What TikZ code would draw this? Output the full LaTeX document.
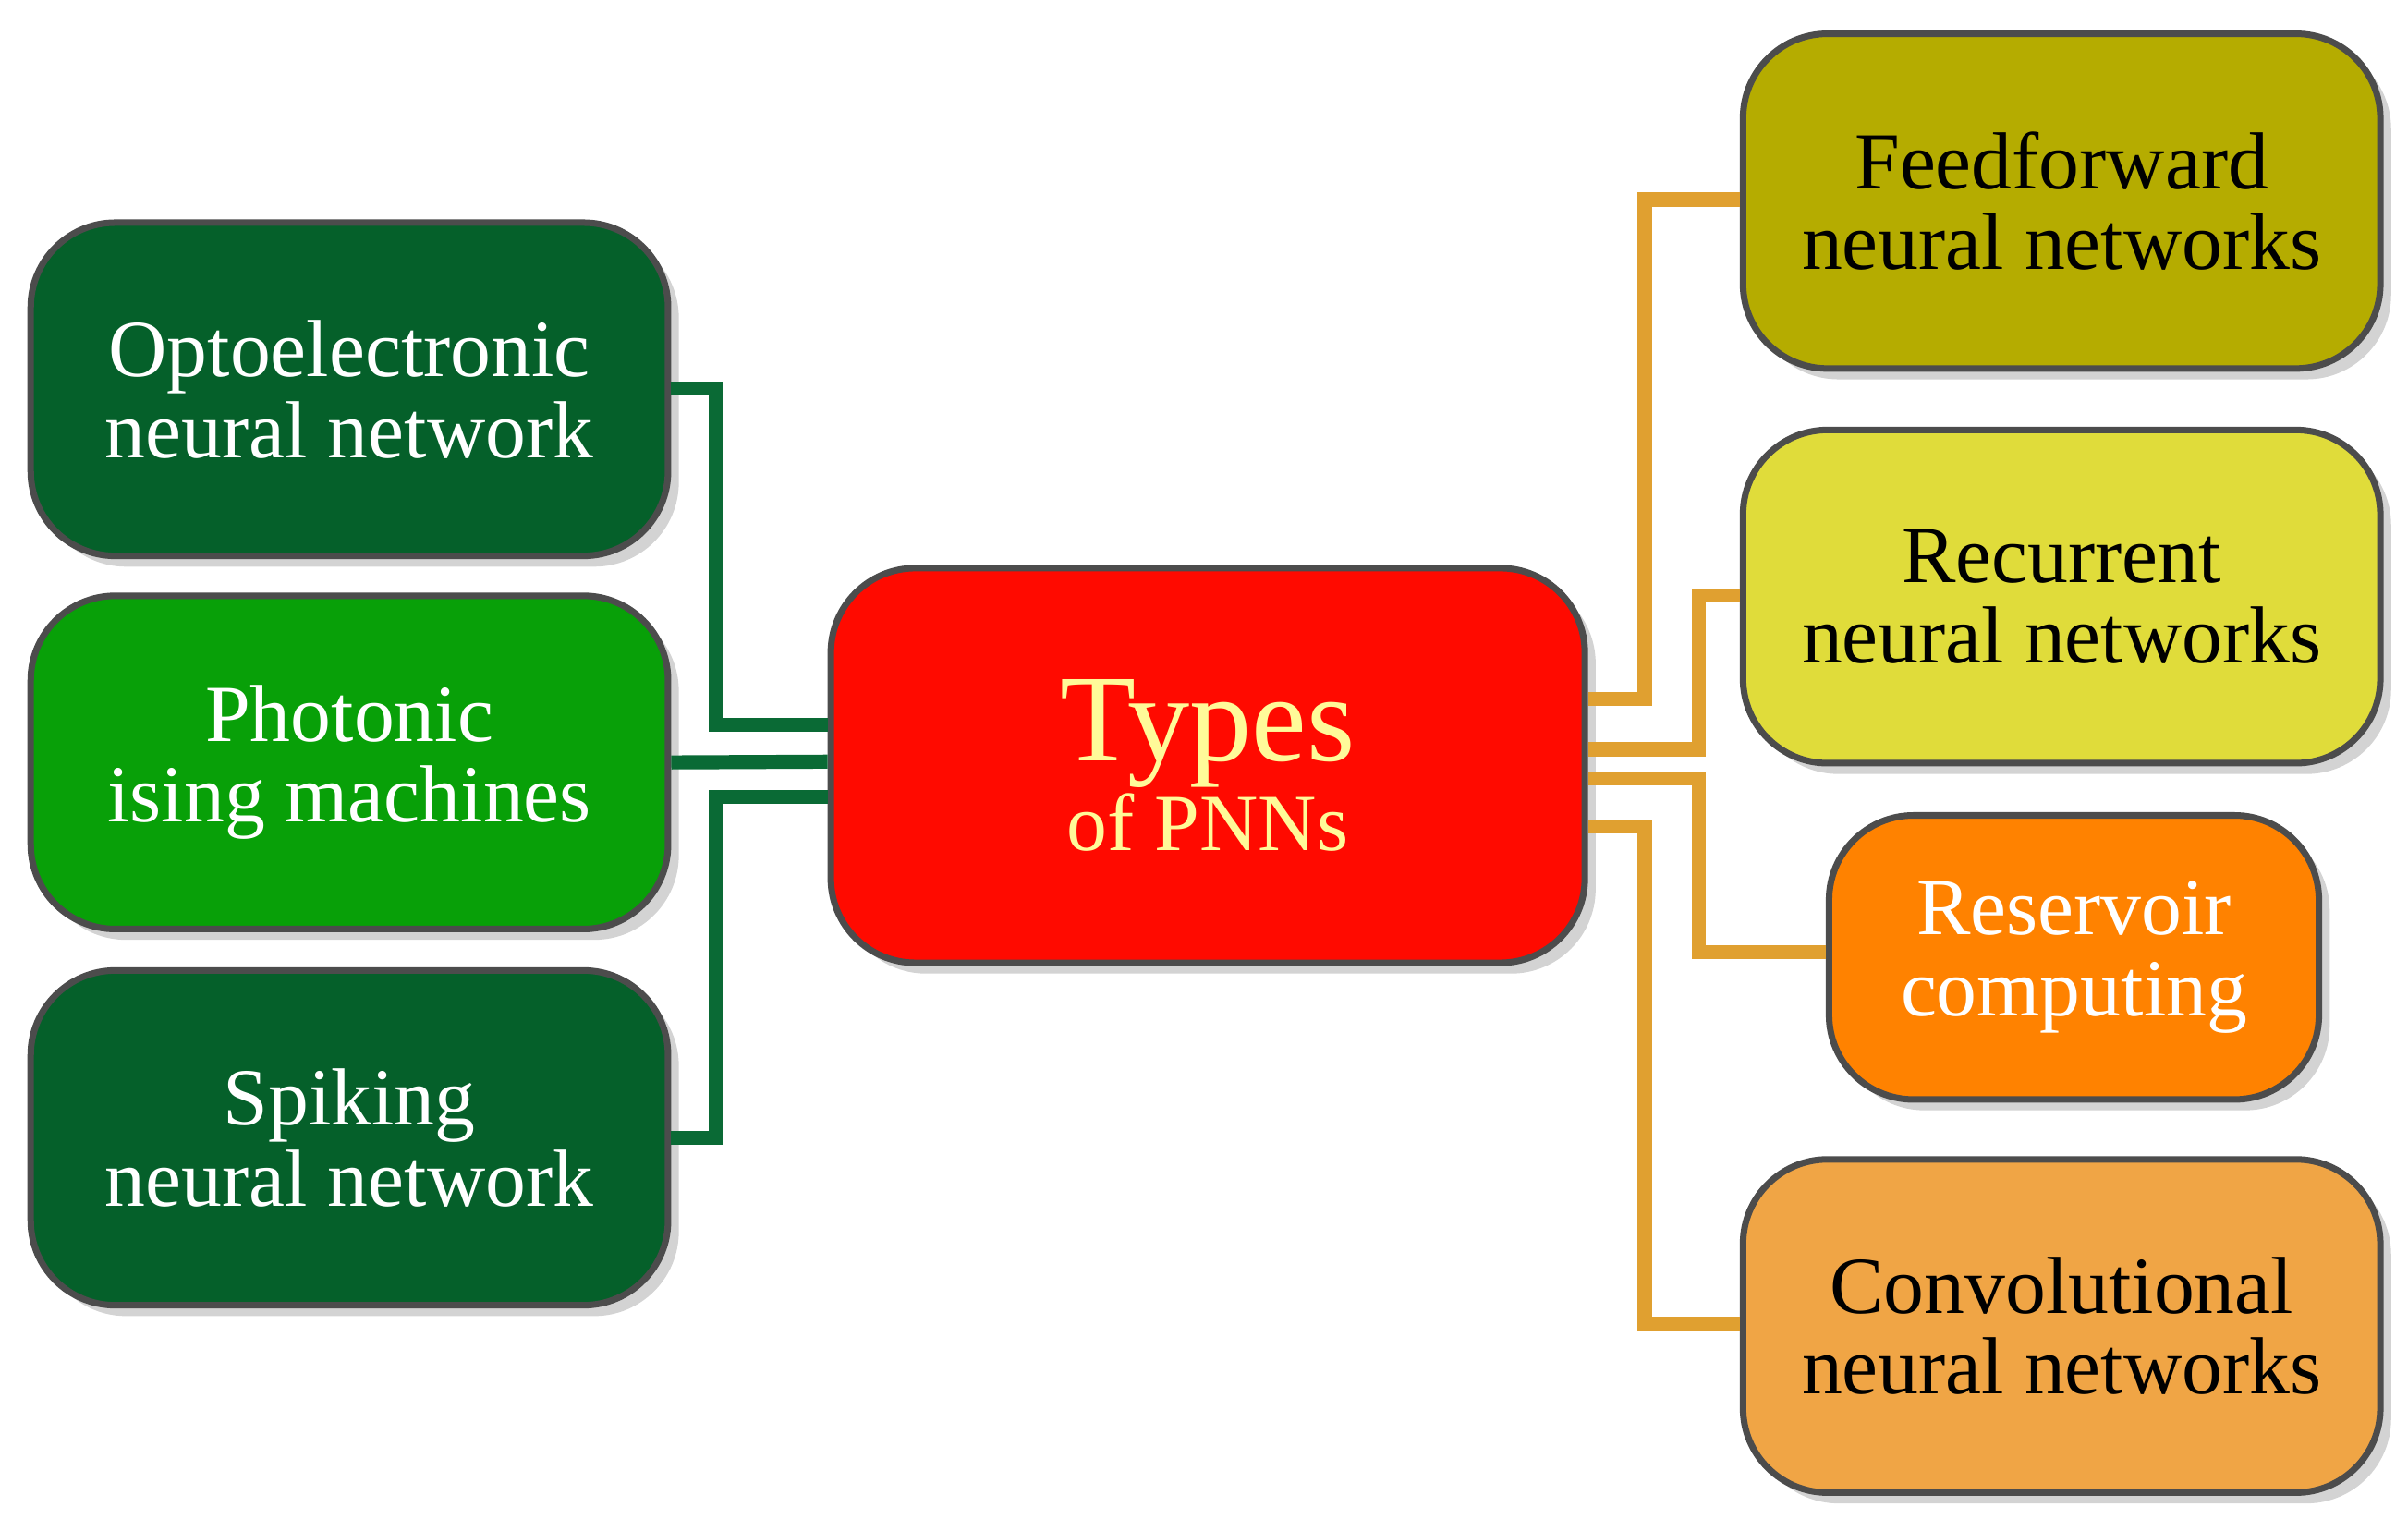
\documentclass[tikz,border=0pt]{standalone}
\usepackage{fontspec}
\setmainfont{Liberation Serif}
\usetikzlibrary{shadows}
\definecolor{dg}{HTML}{05602A}
\definecolor{lg}{HTML}{08A008}
\definecolor{rd}{HTML}{FF0A00}
\definecolor{ol}{HTML}{B5AC00}
\definecolor{yl}{HTML}{E0DC3A}
\definecolor{or}{HTML}{FF8200}
\definecolor{lo}{HTML}{F0A545}
\definecolor{gl}{HTML}{0A6A35}
\definecolor{ol2}{HTML}{E0A030}
\begin{document}
\begin{tikzpicture}[x=0.01cm,y=-0.01cm,
 box/.style={draw=black!70,line width=1.2pt,rounded corners=0.55cm,inner sep=0pt,align=center,font=\fontsize{15}{15}\selectfont,drop shadow={opacity=0.35,shadow xshift=2pt,shadow yshift=-2pt}},
 gline/.style={draw=gl,line width=2.6pt},
 oline/.style={draw=ol2,line width=2.6pt}]
\useasboundingbox (0,0) rectangle (1568,989);
\newcommand{\bx}[6]{\node[box,fill=#5,text=#6,minimum width={(#3-#1)*0.01cm},minimum height={(#4-#2)*0.01cm}] at ({(#1+#3)/2},{(#2+#4)/2})}
\bx{20}{145}{435}{362}{dg}{white} (a) {Optoelectronic\\neural network};
\bx{20}{388}{435}{605}{lg}{white} (b) {Photonic\\ising machines};
\bx{20}{632}{435}{850}{dg}{white} (c) {Spiking\\neural network};
\bx{541}{370}{1032}{627}{rd}{yellow!40} (t) {\fontsize{23}{22}\selectfont Types\\of PNNs};
\bx{1135}{22}{1550}{240}{ol}{black} (d) {Feedforward\\neural networks};
\bx{1135}{280}{1550}{497}{yl}{black} (e) {Recurrent\\neural networks};
\bx{1191}{531}{1510}{716}{or}{white} (f) {Reservoir\\computing};
\bx{1135}{755}{1550}{972}{lo}{black} (g) {Convolutional\\neural networks};
\draw[gline] (a.east |- 0,253) -- (466,253) -- (466,472) -- (t.west |- 0,472);
\draw[gline] (b.east) -- (t.west |- 0,496);
\draw[gline] (c.east |- 0,741) -- (466,741) -- (466,519) -- (t.west |- 0,519);
\draw[oline] (t.east |- 0,455) -- (1071,455) -- (1071,130) -- (d.west |- 0,130);
\draw[oline] (t.east |- 0,488) -- (1106,488) -- (1106,388) -- (e.west |- 0,388);
\draw[oline] (t.east |- 0,507) -- (1106,507) -- (1106,620) -- (f.west |- 0,620);
\draw[oline] (t.east |- 0,538) -- (1071,538) -- (1071,862) -- (g.west |- 0,862);
\end{tikzpicture}
\end{document}
